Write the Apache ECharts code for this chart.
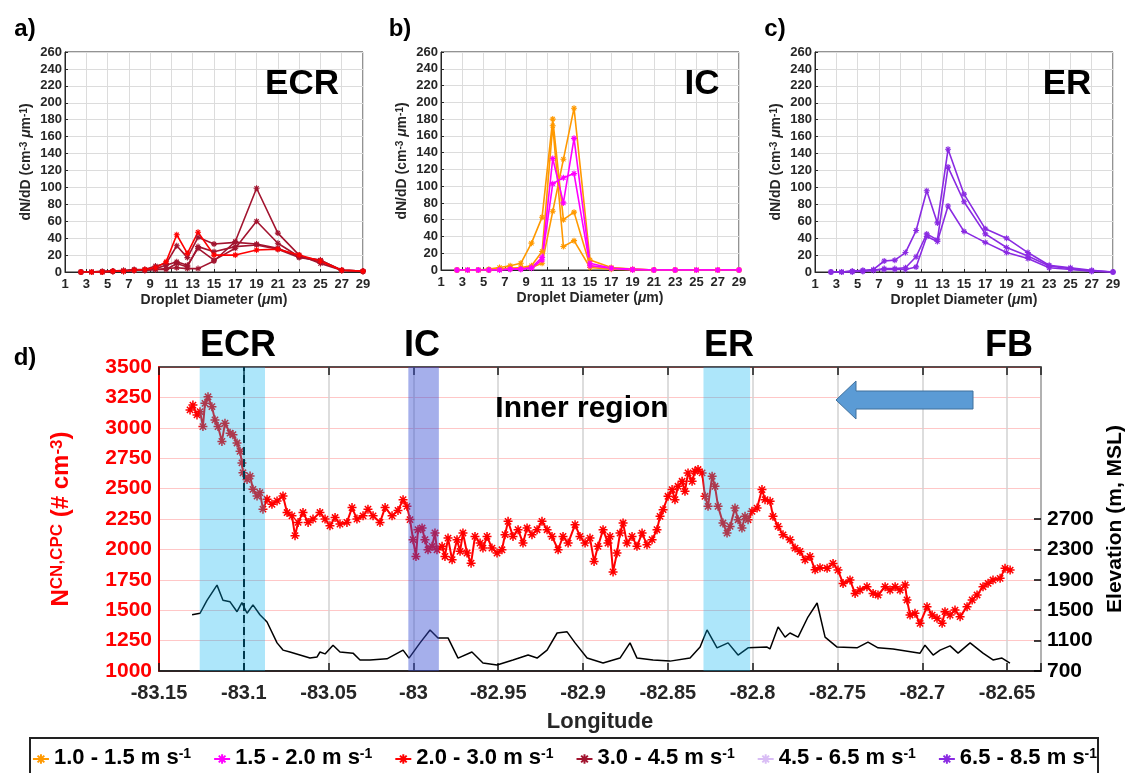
<!DOCTYPE html>
<html>
<head>
<meta charset="utf-8">
<script src="https://cdn.jsdelivr.net/npm/echarts@6/dist/echarts.min.js"></script>
<style>
  html, body { margin: 0; padding: 0; background: #fff; }
  #chart { width: 1129px; height: 773px; }
</style>
</head>
<body>
<div id="chart"></div>
<script>
const FONT = "'Liberation Sans', Arial, sans-serif";
const ASTERISK = 'path://M5,0L5,10M0,5L10,5M1.5,1.5L8.5,8.5M8.5,1.5L1.5,8.5';

// wind speed classes (legend)
const SPEED_CLASSES = ['1.0 - 1.5', '1.5 - 2.0', '2.0 - 3.0', '3.0 - 4.5', '4.5 - 6.5', '6.5 - 8.5'];
const SPEED_COLORS = ['#FF9900', '#FF00FF', '#FF0000', '#A2142F', '#D9BDF5', '#8A2BE2'];

// droplet size bins (um)
const DIAMETERS = [2.5, 3.5, 4.5, 5.5, 6.5, 7.5, 8.5, 9.5, 10.5, 11.5, 12.5, 13.5, 15, 17, 19, 21, 23, 25, 27, 29];

// a) ECR spectra
const ECR_DARK_1 = [0, 0, 0, 1, 1, 2, 2, 3, 4, 5, 4, 4, 13, 36, 99, 46, 20, 10, 2, 1];
const ECR_DARK_2 = [0, 0, 0, 1, 1, 2, 2, 4, 8, 12, 8, 28, 14, 28, 60, 34, 18, 12, 2, 1];
const ECR_DARK_3 = [0, 0, 1, 1, 2, 3, 3, 7, 10, 31, 17, 41, 33, 35, 33, 28, 18, 14, 2, 1];
const ECR_DARK_4 = [0, 0, 0, 1, 1, 2, 2, 3, 3, 10, 6, 30, 24, 30, 32, 27, 17, 14, 2, 1];
const ECR_RED_1 = [0, 0, 0, 1, 1, 2, 3, 5, 12, 44, 22, 47, 20, 20, 26, 27, 20, 13, 2, 1];

// b) IC spectra
const IC_ORANGE_1 = [0, 0, 0, 1, 3, 5, 8, 32, 63, 180, 60, 69, 5, 2, 1, 0, 0, 0, 0, 0];
const IC_ORANGE_2 = [0, 0, 0, 0, 1, 2, 3, 5, 22, 172, 28, 35, 3, 1, 0, 0, 0, 0, 0, 0];
const IC_ORANGE_3 = [0, 0, 0, 0, 1, 2, 2, 3, 8, 70, 132, 193, 12, 3, 1, 0, 0, 0, 0, 0];
const IC_MAGENTA_1 = [0, 0, 0, 0, 0, 1, 1, 3, 15, 133, 80, 157, 8, 2, 1, 0, 0, 0, 0, 0];
const IC_MAGENTA_2 = [0, 0, 0, 0, 0, 1, 1, 2, 12, 103, 110, 115, 5, 2, 0, 0, 0, 0, 0, 0];

// c) ER spectra
const ER_PURPLE_1 = [0, 0, 1, 2, 3, 13, 14, 23, 49, 96, 58, 145, 92, 51, 40, 23, 8, 5, 2, 0];
const ER_PURPLE_2 = [0, 0, 1, 1, 2, 4, 4, 5, 18, 45, 38, 124, 83, 45, 29, 19, 7, 4, 1, 0];
const ER_PURPLE_3 = [0, 0, 0, 1, 2, 3, 3, 3, 6, 42, 36, 78, 48, 35, 23, 16, 5, 3, 1, 0];

// d) CN concentration along track [longitude, # cm-3]
const NCN_TRACK = [
  [-83.1317, 3147], [-83.1300, 3187], [-83.1276, 3106], [-83.1258, 3133], [-83.1241, 3010],
  [-83.1229, 3201], [-83.1211, 3255], [-83.1188, 3174], [-83.1170, 3065], [-83.1152, 3010],
  [-83.1129, 2888], [-83.1111, 3038], [-83.1081, 2956], [-83.1064, 2943], [-83.1040, 2875],
  [-83.1022, 2807], [-83.1011, 2711], [-83.1005, 2630], [-83.0981, 2575], [-83.0963, 2603],
  [-83.0946, 2494], [-83.0922, 2439], [-83.0905, 2467], [-83.0887, 2331], [-83.0863, 2412],
  [-83.0834, 2371], [-83.0804, 2399], [-83.0769, 2439], [-83.0745, 2303], [-83.0716, 2276],
  [-83.0698, 2113], [-83.0680, 2222], [-83.0651, 2303], [-83.0621, 2222], [-83.0592, 2249],
  [-83.0551, 2303], [-83.0521, 2249], [-83.0492, 2194], [-83.0462, 2262], [-83.0433, 2208],
  [-83.0392, 2222], [-83.0362, 2344], [-83.0333, 2249], [-83.0297, 2276], [-83.0268, 2331],
  [-83.0238, 2276], [-83.0197, 2222], [-83.0167, 2344], [-83.0126, 2276], [-83.0091, 2320],
  [-83.0061, 2409], [-83.0038, 2354], [-83.0020, 2245], [-83.0002, 2080], [-82.9985, 1942],
  [-82.9973, 2162], [-82.9949, 2176], [-82.9932, 2080], [-82.9914, 1997], [-82.9890, 2025],
  [-82.9873, 2135], [-82.9861, 1997], [-82.9831, 2025], [-82.9814, 1942], [-82.9796, 2093],
  [-82.9772, 1915], [-82.9743, 2080], [-82.9725, 1984], [-82.9708, 2135], [-82.9684, 1970],
  [-82.9660, 1887], [-82.9637, 2107], [-82.9607, 2052], [-82.9590, 2011], [-82.9566, 2107],
  [-82.9537, 2011], [-82.9507, 1970], [-82.9478, 1997], [-82.9460, 2121], [-82.9442, 2231],
  [-82.9413, 2107], [-82.9383, 2162], [-82.9354, 2052], [-82.9330, 2176], [-82.9301, 2121],
  [-82.9271, 2162], [-82.9242, 2231], [-82.9212, 2162], [-82.9183, 2107], [-82.9147, 1997],
  [-82.9118, 2107], [-82.9088, 2052], [-82.9047, 2203], [-82.9018, 2107], [-82.8988, 2052],
  [-82.8959, 2093], [-82.8935, 1901], [-82.8912, 2025], [-82.8882, 2162], [-82.8853, 2052],
  [-82.8841, 2107], [-82.8823, 1815], [-82.8800, 1970], [-82.8782, 2134], [-82.8764, 2217],
  [-82.8741, 2052], [-82.8711, 2107], [-82.8682, 2025], [-82.8652, 2134], [-82.8623, 2038],
  [-82.8593, 2080], [-82.8564, 2162], [-82.8546, 2272], [-82.8528, 2327], [-82.8499, 2437],
  [-82.8475, 2492], [-82.8458, 2409], [-82.8440, 2519], [-82.8416, 2560], [-82.8399, 2478],
  [-82.8381, 2629], [-82.8357, 2560], [-82.8340, 2643], [-82.8322, 2657], [-82.8298, 2629],
  [-82.8281, 2437], [-82.8263, 2354], [-82.8239, 2602], [-82.8222, 2519], [-82.8204, 2354],
  [-82.8175, 2217], [-82.8151, 2134], [-82.8133, 2189], [-82.8104, 2340], [-82.8086, 2244],
  [-82.8063, 2175], [-82.8045, 2272], [-82.8027, 2244], [-82.8004, 2313], [-82.7974, 2340],
  [-82.7945, 2492], [-82.7927, 2409], [-82.7897, 2395], [-82.7880, 2272], [-82.7850, 2189],
  [-82.7821, 2120], [-82.7779, 2080], [-82.7750, 2011], [-82.7721, 1983], [-82.7691, 1914],
  [-82.7662, 1942], [-82.7632, 1832], [-82.7603, 1850], [-82.7561, 1845], [-82.7526, 1885],
  [-82.7497, 1830], [-82.7467, 1720], [-82.7426, 1748], [-82.7396, 1638], [-82.7367, 1666],
  [-82.7326, 1693], [-82.7290, 1638], [-82.7261, 1625], [-82.7219, 1693], [-82.7190, 1666],
  [-82.7160, 1693], [-82.7131, 1666], [-82.7101, 1707], [-82.7090, 1584], [-82.7072, 1460],
  [-82.7043, 1474], [-82.7013, 1392], [-82.6972, 1529], [-82.6942, 1460], [-82.6913, 1433],
  [-82.6883, 1392], [-82.6866, 1488], [-82.6836, 1460], [-82.6807, 1501], [-82.6777, 1447],
  [-82.6736, 1529], [-82.6706, 1584], [-82.6677, 1625], [-82.6642, 1693], [-82.6612, 1721],
  [-82.6583, 1748], [-82.6541, 1762], [-82.6512, 1844], [-82.6482, 1830]
];

// d) terrain elevation along track [longitude, m MSL]
const ELEV_TRACK = [
  [-83.1305, 1440], [-83.1258, 1460], [-83.1217, 1630], [-83.1158, 1830], [-83.1123, 1630],
  [-83.1081, 1610], [-83.1040, 1480], [-83.1011, 1600], [-83.0981, 1460], [-83.0946, 1570],
  [-83.0905, 1440], [-83.0863, 1345], [-83.0804, 1070], [-83.0769, 975], [-83.0728, 950],
  [-83.0669, 910], [-83.0610, 870], [-83.0568, 885], [-83.0551, 950], [-83.0521, 925],
  [-83.0474, 1040], [-83.0433, 950], [-83.0356, 935], [-83.0315, 845], [-83.0256, 845],
  [-83.0156, 860], [-83.0061, 975], [-83.0026, 870], [-82.9961, 1070], [-82.9902, 1240],
  [-82.9855, 1135], [-82.9796, 1135], [-82.9737, 870], [-82.9655, 950], [-82.9590, 805],
  [-82.9507, 780], [-82.9413, 845], [-82.9324, 910], [-82.9271, 870], [-82.9212, 975],
  [-82.9153, 1200], [-82.9094, 1215], [-82.9047, 1070], [-82.8976, 870], [-82.8882, 805],
  [-82.8782, 870], [-82.8723, 1070], [-82.8682, 870], [-82.8587, 845], [-82.8487, 830],
  [-82.8369, 870], [-82.8310, 1015], [-82.8269, 1240], [-82.8210, 1005], [-82.8145, 1070],
  [-82.8086, 910], [-82.8027, 1005], [-82.7915, 1015], [-82.7898, 990], [-82.7850, 1280],
  [-82.7809, 1145], [-82.7780, 1200], [-82.7732, 1145], [-82.7674, 1410], [-82.7620, 1595],
  [-82.7573, 1145], [-82.7502, 1015], [-82.7385, 1005], [-82.7320, 1080], [-82.7261, 1005],
  [-82.7172, 990], [-82.7013, 935], [-82.6984, 1040], [-82.6936, 910], [-82.6895, 975],
  [-82.6836, 1030], [-82.6789, 935], [-82.6718, 1070], [-82.6642, 935], [-82.6583, 845],
  [-82.6530, 870], [-82.6483, 805]
];

// shaded regions (longitude start, end): ECR, IC, ER
const SHADE_REGIONS = [[-83.126, -83.0875], [-83.003, -82.985], [-82.829, -82.8015]];
const SHADE_COLORS = ['rgba(0,176,240,0.32)', 'rgba(55,78,211,0.45)', 'rgba(0,176,240,0.32)'];
const ECR_CENTER_LON = -83.101;

const LON_MIN = -83.15;
const LON_MAX = -82.63;

const INK = '#262626';

const plainNumber = (v) => String(v);

const lonLabel = (v) => {
  if (Math.abs(v * 20 - Math.round(v * 20)) > 1e-6) {
    return '';
  }
  return String(parseFloat(v.toFixed(2)));
};

const smallRich = {
  n: { fontFamily: FONT, fontWeight: 'bold', fontSize: 14, color: INK, lineHeight: 16, verticalAlign: 'top' },
  i: { fontFamily: FONT, fontWeight: 'bold', fontStyle: 'italic', fontSize: 14, color: INK, lineHeight: 16, verticalAlign: 'top' },
  sup: { fontFamily: FONT, fontWeight: 'bold', fontSize: 10, color: INK, lineHeight: 8, verticalAlign: 'top' },
};

function sizeGrid(left, height) {
  return {
    left,
    top: 52,
    width: 298,
    height,
    show: true,
    borderColor: INK,
    borderWidth: 1,
    outerBoundsMode: 'none',
  };
}

function sizeXAxis(idx) {
  return {
    gridIndex: idx,
    type: 'value',
    min: 1,
    max: 29,
    interval: 2,
    name: '{n|Droplet Diameter (}{i|μ}{n|m)}',
    nameLocation: 'middle',
    nameGap: 21,
    nameTextStyle: { rich: smallRich },
    axisLine: { lineStyle: { color: INK, width: 1 } },
    axisTick: { inside: true, length: 3, lineStyle: { color: INK } },
    axisLabel: { color: INK, fontFamily: FONT, fontWeight: 'bold', fontSize: 13, margin: 6 },
    splitLine: { show: true, lineStyle: { color: '#dcdcdc' } },
  };
}

function sizeYAxis(idx) {
  return {
    gridIndex: idx,
    type: 'value',
    min: 0,
    max: 260,
    interval: 20,
    name: '{n|dN/dD (cm}{sup|-3}{i| μ}{n|m}{sup|-1}{n|)}',
    nameLocation: 'middle',
    nameGap: 30,
    nameTextStyle: { rich: smallRich },
    axisLine: { lineStyle: { color: INK, width: 1 } },
    axisTick: { inside: true, length: 3, lineStyle: { color: INK } },
    axisLabel: { color: INK, fontFamily: FONT, fontWeight: 'bold', fontSize: 13, margin: 3 },
    splitLine: { show: true, lineStyle: { color: '#dcdcdc' } },
  };
}

function sizeSeries(panel, cls, values) {
  const color = SPEED_COLORS[cls];
  return {
    name: SPEED_CLASSES[cls],
    type: 'line',
    xAxisIndex: panel,
    yAxisIndex: panel,
    data: DIAMETERS.map((d, i) => [d, values[i]]),
    symbol: ASTERISK,
    symbolSize: 6,
    lineStyle: { color, width: 1.6 },
    itemStyle: { color, borderColor: color, borderWidth: 1.1 },
    emphasis: { disabled: true },
    z: 3,
  };
}

function label(text, x, y, size) {
  return {
    type: 'text',
    x,
    y,
    z: 100,
    style: {
      text,
      fill: '#000',
      font: `bold ${size}px ${FONT}`,
      textAlign: 'center',
      align: 'center',
      textVerticalAlign: 'middle',
      verticalAlign: 'middle',
    },
  };
}

const dRich = {
  n: { fontFamily: FONT, fontWeight: 'bold', fontSize: 24, color: '#FF0000', lineHeight: 26, verticalAlign: 'top' },
  sub: { fontFamily: FONT, fontWeight: 'bold', fontSize: 17, color: '#FF0000', lineHeight: 42, verticalAlign: 'top' },
  sup: { fontFamily: FONT, fontWeight: 'bold', fontSize: 17, color: '#FF0000', lineHeight: 12, verticalAlign: 'top' },
};

const option = {
  animation: false,
  backgroundColor: '#fff',
  textStyle: { fontFamily: FONT },
  grid: [
    sizeGrid(65, 220),
    sizeGrid(441, 218),
    sizeGrid(815, 220),
    { left: 159, top: 367, width: 882, height: 304, show: true, borderColor: '#1a1a1a', borderWidth: 1.5, outerBoundsMode: 'none' },
    { left: 159, top: 519, width: 882, height: 152, show: false, outerBoundsMode: 'none' },
  ],
  xAxis: [
    sizeXAxis(0),
    sizeXAxis(1),
    sizeXAxis(2),
    {
      gridIndex: 3,
      type: 'value',
      min: LON_MIN,
      max: LON_MAX,
      interval: 0.05,
      name: 'Longitude',
      nameLocation: 'middle',
      nameGap: 40,
      nameTextStyle: { color: INK, fontFamily: FONT, fontWeight: 'bold', fontSize: 22 },
      axisLine: { lineStyle: { color: '#1a1a1a', width: 1.5 } },
      axisTick: { inside: true, length: 8, lineStyle: { color: '#1a1a1a', width: 1.5 } },
      axisLabel: { color: INK, fontFamily: FONT, fontWeight: 'bold', fontSize: 20, margin: 12, formatter: lonLabel },
      splitLine: { show: true, lineStyle: { color: '#d2d2d2', width: 1.5 } },
    },
    {
      gridIndex: 3,
      type: 'value',
      position: 'top',
      min: LON_MIN,
      max: LON_MAX,
      interval: 0.05,
      axisLine: { show: false },
      axisTick: { inside: true, length: 8, lineStyle: { color: '#1a1a1a', width: 1.5 } },
      axisLabel: { show: false },
      splitLine: { show: false },
    },
    {
      gridIndex: 4,
      type: 'value',
      min: LON_MIN,
      max: LON_MAX,
      show: false,
    },
  ],
  yAxis: [
    sizeYAxis(0),
    sizeYAxis(1),
    sizeYAxis(2),
    {
      gridIndex: 3,
      type: 'value',
      min: 1000,
      max: 3500,
      interval: 250,
      name: '{n|N}{sub|CN,CPC}{n| (# cm}{sup|-3}{n|)}',
      nameLocation: 'middle',
      nameGap: 68,
      nameTextStyle: { rich: dRich },
      axisLine: { lineStyle: { color: '#FF0000', width: 2 } },
      axisTick: { show: false },
      axisLabel: { color: '#FF0000', fontFamily: FONT, fontWeight: 'bold', fontSize: 21, margin: 7, formatter: plainNumber },
      splitLine: { show: true, lineStyle: { color: 'rgba(255,0,0,0.22)', width: 1.2 } },
    },
    {
      gridIndex: 3,
      type: 'value',
      position: 'right',
      min: 0,
      max: 1,
      name: 'Elevation (m, MSL)',
      nameLocation: 'middle',
      nameGap: 64,
      nameTextStyle: { color: '#000', fontFamily: FONT, fontWeight: 'bold', fontSize: 21 },
      axisLine: { show: false },
      axisTick: { show: false },
      axisLabel: { show: false },
      splitLine: { show: false },
    },
    {
      gridIndex: 4,
      type: 'value',
      position: 'right',
      min: 700,
      max: 2700,
      interval: 400,
      axisLine: { show: false },
      axisTick: { show: true, inside: true, length: 7, lineStyle: { color: '#000', width: 1.5 } },
      axisLabel: { color: '#000', fontFamily: FONT, fontWeight: 'bold', fontSize: 21, margin: 6, formatter: plainNumber },
      splitLine: { show: false },
    },
  ],
  legend: {
    data: SPEED_CLASSES,
    left: 'center',
    top: 742,
    itemGap: 22,
    itemWidth: 16,
    itemHeight: 12,
    selectedMode: false,
    formatter: (name) => `{t|${name} m s}{s|-1}`,
    textStyle: {
      color: '#000',
      rich: {
        t: { fontFamily: FONT, fontWeight: 'bold', fontSize: 22, color: '#000', lineHeight: 24, verticalAlign: 'top' },
        s: { fontFamily: FONT, fontWeight: 'bold', fontSize: 14, color: '#000', lineHeight: 12, verticalAlign: 'top' },
      },
    },
  },
  graphic: [
    label('a)', 25, 29, 24),
    label('b)', 400, 29, 24),
    label('c)', 775, 29, 24),
    label('d)', 25, 358, 24),
    label('ECR', 302, 84, 35),
    label('IC', 702, 84, 35),
    label('ER', 1067, 84, 35),
    label('ECR', 238, 346, 36),
    label('IC', 422, 346, 36),
    label('ER', 729, 346, 36),
    label('FB', 1009, 346, 36),
    label('Inner region', 582, 409, 30),
    {
      type: 'polygon',
      z: 100,
      shape: { points: [[836, 400], [856, 381], [856, 391], [973, 391], [973, 409], [856, 409], [856, 419]] },
      style: { fill: '#5B9BD5', stroke: '#41719C', lineWidth: 1 },
    },
    {
      type: 'rect',
      z: 100,
      shape: { x: 30, y: 738, width: 1068, height: 45 },
      style: { fill: 'none', stroke: '#222', lineWidth: 2 },
    },
  ],
  series: [
    sizeSeries(0, 3, ECR_DARK_1),
    sizeSeries(0, 3, ECR_DARK_2),
    sizeSeries(0, 3, ECR_DARK_3),
    sizeSeries(0, 3, ECR_DARK_4),
    sizeSeries(0, 2, ECR_RED_1),
    sizeSeries(1, 0, IC_ORANGE_1),
    sizeSeries(1, 0, IC_ORANGE_2),
    sizeSeries(1, 0, IC_ORANGE_3),
    sizeSeries(1, 1, IC_MAGENTA_1),
    sizeSeries(1, 1, IC_MAGENTA_2),
    sizeSeries(2, 5, ER_PURPLE_1),
    sizeSeries(2, 5, ER_PURPLE_2),
    sizeSeries(2, 5, ER_PURPLE_3),
    {
      // legend only, no spectra of this class shown
      name: SPEED_CLASSES[4],
      type: 'line',
      xAxisIndex: 0,
      yAxisIndex: 0,
      data: [],
      symbol: ASTERISK,
      lineStyle: { color: SPEED_COLORS[4], width: 1.5 },
      itemStyle: { color: SPEED_COLORS[4], borderColor: SPEED_COLORS[4], borderWidth: 1 },
    },
    {
      name: 'NCN',
      type: 'line',
      xAxisIndex: 3,
      yAxisIndex: 3,
      data: NCN_TRACK,
      symbol: ASTERISK,
      symbolSize: 9,
      lineStyle: { color: '#FF0000', width: 2 },
      itemStyle: { color: '#FF0000', borderColor: '#FF0000', borderWidth: 1.5 },
      emphasis: { disabled: true },
      z: 3,
      markLine: {
        silent: true,
        symbol: ['none', 'none'],
        label: { show: false },
        lineStyle: { color: '#000', type: 'dashed', width: 2 },
        data: [{ xAxis: ECR_CENTER_LON }],
      },
    },
    {
      name: 'Elevation',
      type: 'line',
      xAxisIndex: 5,
      yAxisIndex: 5,
      data: ELEV_TRACK,
      showSymbol: false,
      symbol: 'none',
      lineStyle: { color: '#000', width: 1.5 },
      emphasis: { disabled: true },
      z: 3,
    },
    {
      name: 'regions',
      type: 'custom',
      xAxisIndex: 3,
      yAxisIndex: 3,
      z: 10,
      silent: true,
      encode: { x: [0, 1] },
      data: SHADE_REGIONS.map((r, i) => ({ value: r, itemStyle: { color: SHADE_COLORS[i] } })),
      renderItem: (params, api) => {
        const cs = params.coordSys;
        const x0 = api.coord([api.value(0), 2000])[0];
        const x1 = api.coord([api.value(1), 2000])[0];
        return {
          type: 'rect',
          shape: { x: x0, y: cs.y, width: x1 - x0, height: cs.height },
          style: { fill: api.visual('color') },
        };
      },
    },
  ],
};

const chart = echarts.init(document.getElementById('chart'));
chart.setOption(option);
</script>
</body>
</html>
